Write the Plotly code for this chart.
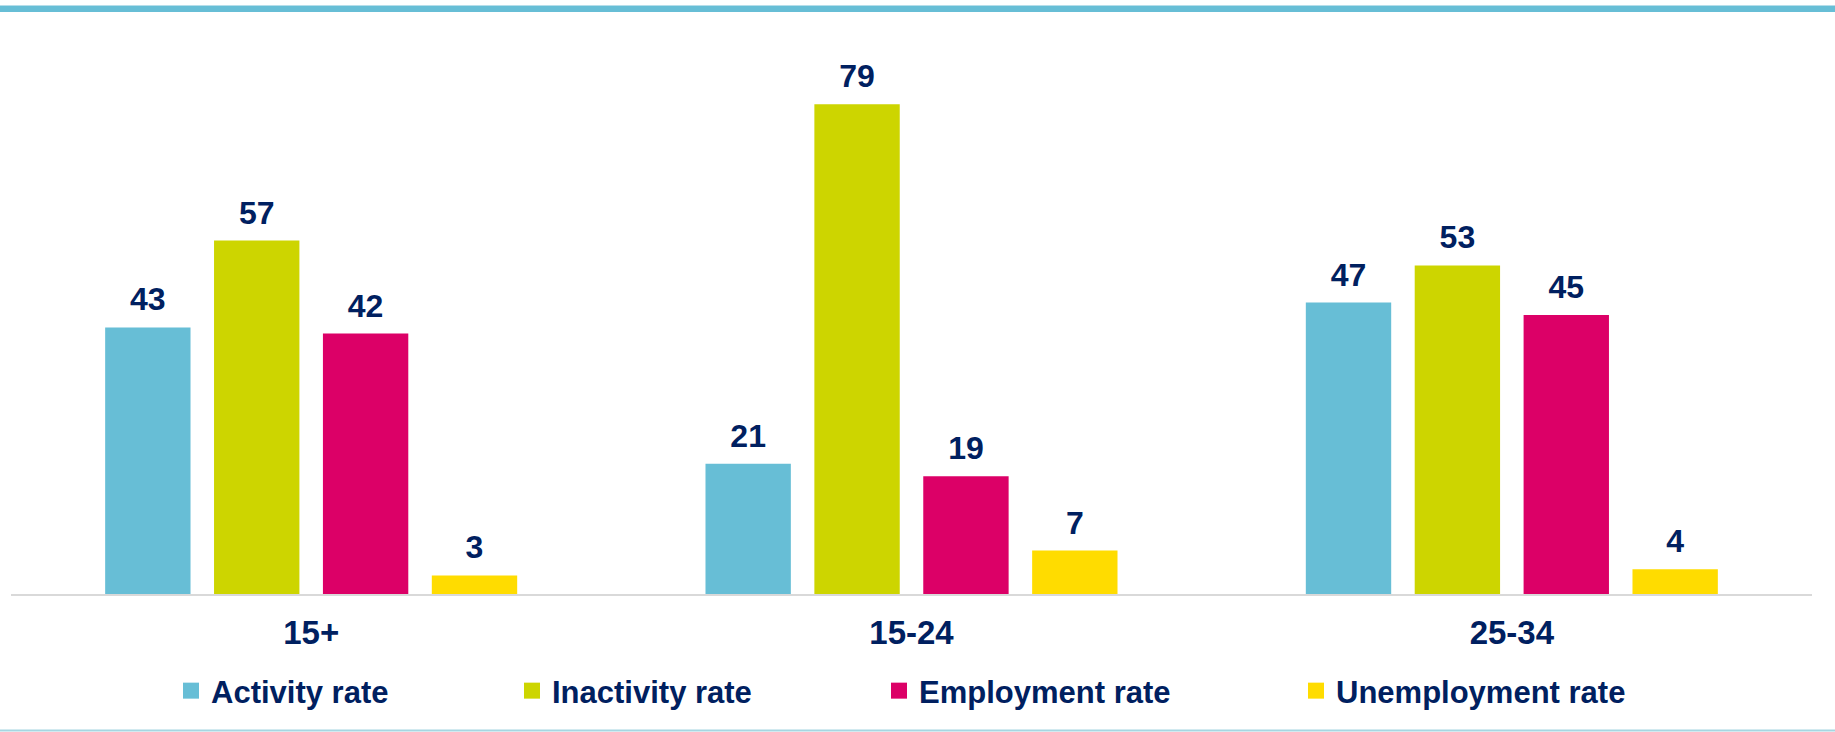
import plotly.graph_objects as go

# ---------------- data ----------------
categories = ["15+", "15-24", "25-34"]
activity_rate = [43, 21, 47]
inactivity_rate = [57, 79, 53]
employment_rate = [42, 19, 45]
unemployment_rate = [3, 7, 4]
series_names = ["Activity rate", "Inactivity rate", "Employment rate", "Unemployment rate"]
series_values = [activity_rate, inactivity_rate, employment_rate, unemployment_rate]

# ---------------- style ----------------
series_colors = ["#67BED6", "#CDD500", "#DC0067", "#FFDC00"]
NAVY = "#002060"
FONT = "Liberation Sans, Arial, sans-serif"
W, H = 1835, 732
ML, MR, MT, MB = 11, 23, 20, 138
PLOT_W = W - ML - MR
PLOT_H = H - MT - MB
Y_MAX = PLOT_H / 6.2


def px_to_paper_x(px):
    return (px - ML) / PLOT_W


def px_to_paper_y(py):
    return (H - MB - py) / PLOT_H


# invisible spacer so the label sits higher above the bar
pad = "<span style='font-size:68px;color:rgba(0,0,0,0)'>.</span>"

fig = go.Figure()
for name, vals, col in zip(series_names, series_values, series_colors):
    fig.add_trace(go.Bar(
        x=categories, y=vals, name=name,
        marker=dict(color=col, line=dict(width=0)),
        texttemplate=pad + "%{y}" + pad,
        textposition="outside",
        constraintext="none",
        cliponaxis=False,
        textfont=dict(family=FONT, size=32, color=NAVY, weight="bold"),
        showlegend=False,
        hoverinfo="skip",
    ))

# legend entries (one legend per entry so each can be placed like the reference)
legend_text_left = [213, 554, 921, 1338]
for i, (name, col) in enumerate(zip(series_names, series_colors)):
    lg = "legend" if i == 0 else f"legend{i + 1}"
    fig.add_trace(go.Scatter(
        x=[None], y=[None], mode="markers", name=name,
        marker=dict(symbol="square", size=17, color=col),
        showlegend=True, legend=lg, hoverinfo="skip",
    ))

legend_common = dict(
    orientation="h", yanchor="middle", xanchor="left",
    y=px_to_paper_y(691), bgcolor="rgba(0,0,0,0)", borderwidth=0,
    font=dict(family=FONT, size=31, color=NAVY, weight="bold"),
    itemclick=False, itemdoubleclick=False,
)
legend_layout = {}
for i, tx in enumerate(legend_text_left):
    key = "legend" if i == 0 else f"legend{i + 1}"
    legend_layout[key] = dict(legend_common, x=px_to_paper_x(tx - 42))

fig.update_layout(
    width=W, height=H,
    margin=dict(l=ML, r=MR, t=MT, b=MB, pad=0),
    paper_bgcolor="white", plot_bgcolor="white",
    barmode="group", bargap=0.2745, bargroupgap=0.216,
    font=dict(family=FONT, color=NAVY),
    xaxis=dict(
        type="category", showgrid=False, zeroline=False,
        showline=True, linecolor="#D9D9D9", linewidth=2,
        ticks="outside", ticklen=8, tickcolor="rgba(0,0,0,0)",
        tickfont=dict(family=FONT, size=33, color=NAVY, weight="bold"),
        fixedrange=True,
    ),
    yaxis=dict(range=[0, Y_MAX], visible=False, showgrid=False, zeroline=False, fixedrange=True),
    shapes=[
        dict(type="line", xref="paper", yref="paper",
             x0=px_to_paper_x(0), x1=px_to_paper_x(W),
             y0=px_to_paper_y(5.5), y1=px_to_paper_y(5.5),
             line=dict(color="#B5DEEA", width=1)),
        dict(type="line", xref="paper", yref="paper",
             x0=px_to_paper_x(0), x1=px_to_paper_x(W),
             y0=px_to_paper_y(9), y1=px_to_paper_y(9),
             line=dict(color="#67BED6", width=6)),
        dict(type="line", xref="paper", yref="paper",
             x0=px_to_paper_x(0), x1=px_to_paper_x(W),
             y0=px_to_paper_y(730.5), y1=px_to_paper_y(730.5),
             line=dict(color="#A6D6E1", width=2)),
    ],
    **legend_layout,
)

fig.write_html(
    "out.html",
    config={"displayModeBar": False},
    post_script="document.body.style.margin='0';document.body.style.overflow='hidden';",
)
